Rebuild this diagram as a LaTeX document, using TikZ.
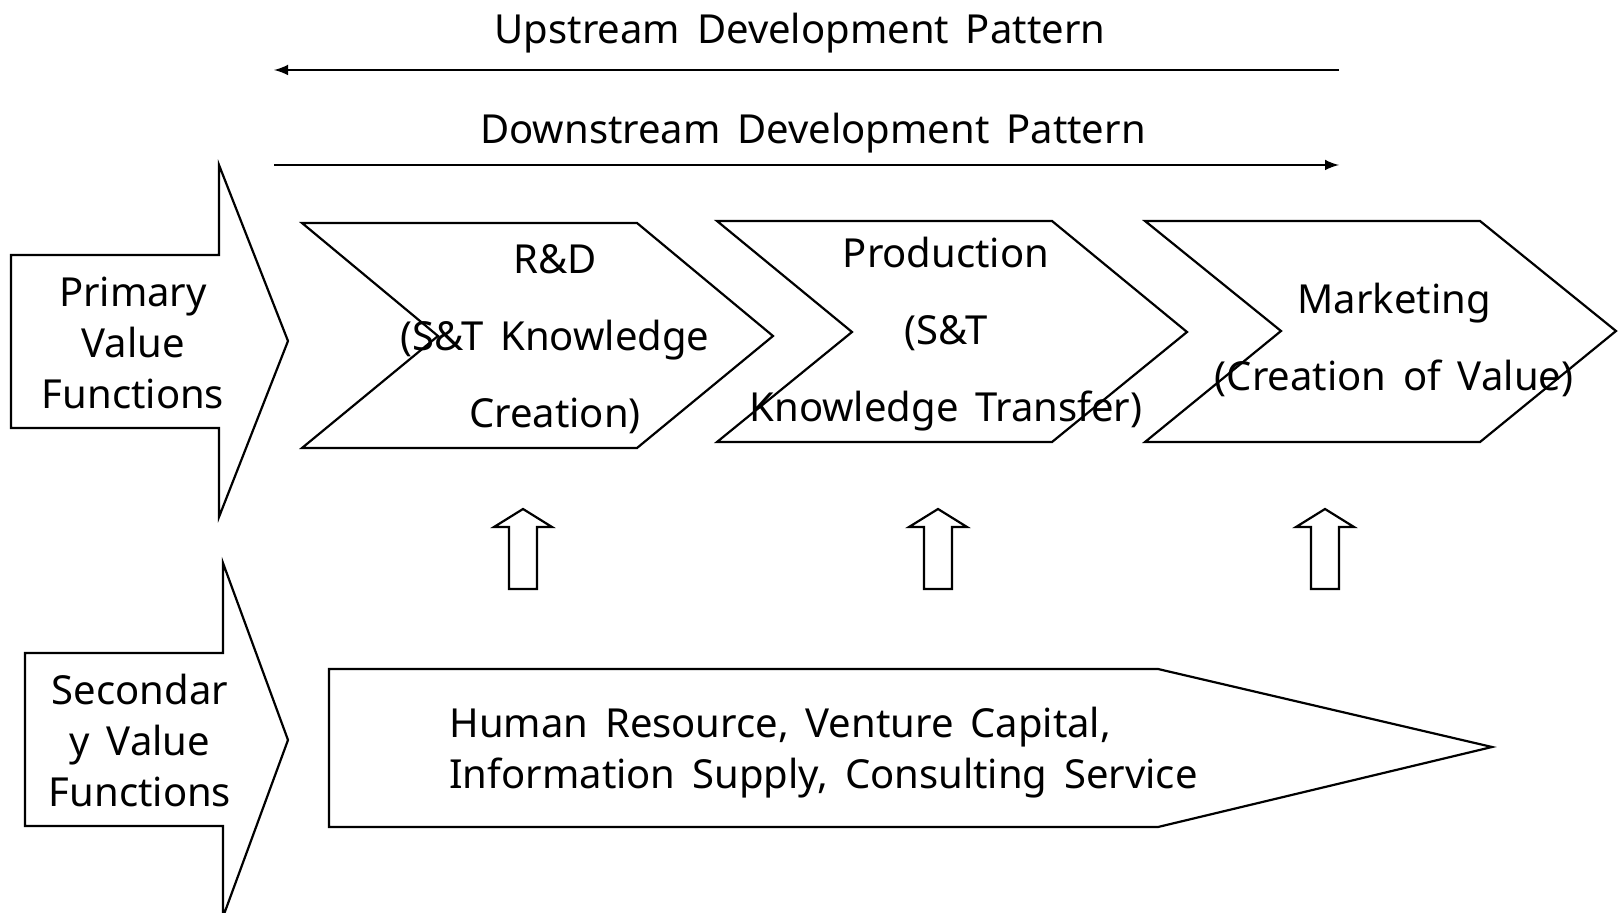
\documentclass[tikz,border=0pt]{standalone}
\usepackage{fontspec}
\setmainfont{Noto Sans}
\usetikzlibrary{arrows}

\newcommand\widespaces{\spaceskip=0.42em\relax}

\tikzset{
  outline/.style={line width=1.1pt},
  flow/.style={line width=1.4pt, -latex},
  lbl/.style={font=\fontsize{20}{25.5}\selectfont\widespaces, align=center, inner sep=0pt},
  steplbl/.style={font=\fontsize{20}{38.5}\selectfont\widespaces, align=center, inner sep=0pt},
}

\begin{document}
\begin{tikzpicture}[x=0.5pt,y=-0.5pt]
\useasboundingbox (0,0) rectangle (1621,913);

% development patterns
\coordinate (upstart) at (1339,70);
\coordinate (upend) at (274,70);
\coordinate (downstart) at (274,165);
\coordinate (downend) at (1339,165);
\node[lbl] (upstream) at (800,33) {Upstream Development Pattern};
\draw[flow] (upstart) -- (upend);
\node[lbl] (downstream) at (813,133) {Downstream Development Pattern};
\draw[flow] (downstart) -- (downend);

% primary and secondary value functions
\draw[outline] (11,255) -- (219,255) -- (219,165) -- (288,341) -- (219,517) -- (219,428) -- (11,428) -- cycle;
\node[lbl] (primary) at (133,343) {Primary\\Value\\Functions};
\draw[outline] (25,653) -- (223,653) -- (223,563) -- (288,740) -- (223,917) -- (223,826) -- (25,826) -- cycle;
\node[lbl] (secondary) at (140,740) {Secondar\\y Value\\Functions};

% value chain
\draw[outline] (302,223) -- (637,223) -- (773,336) -- (637,448) -- (302,448) -- (438,336) -- cycle;
\draw[outline] (717,221) -- (1052,221) -- (1187,332) -- (1052,442) -- (717,442) -- (852,332) -- cycle;
\draw[outline] (1145,221) -- (1480,221) -- (1616,331) -- (1480,442) -- (1145,442) -- (1281,331) -- cycle;
\node[steplbl] (rnd) at (555,339) {R\&D\\(S\&T Knowledge\\Creation)};
\node[steplbl] (production) at (946,334) {Production\\(S\&T\\Knowledge Transfer)};
\node[steplbl] (marketing) at (1394,340) {Marketing\\(Creation of Value)};

% support arrows
\foreach \x in {523,938,1325}
  \draw[outline] (\x,509) -- (\x+29,527) -- (\x+14,527) -- (\x+14,589) -- (\x-14,589) -- (\x-14,527) -- (\x-29,527) -- cycle;

\draw[outline] (329,669) -- (1158,669) -- (1492,747) -- (1158,827) -- (329,827) -- cycle;
\node[lbl, align=left, anchor=west] (support) at (449,753) {Human Resource, Venture Capital,\\Information Supply, Consulting Service};
\end{tikzpicture}
\end{document}
